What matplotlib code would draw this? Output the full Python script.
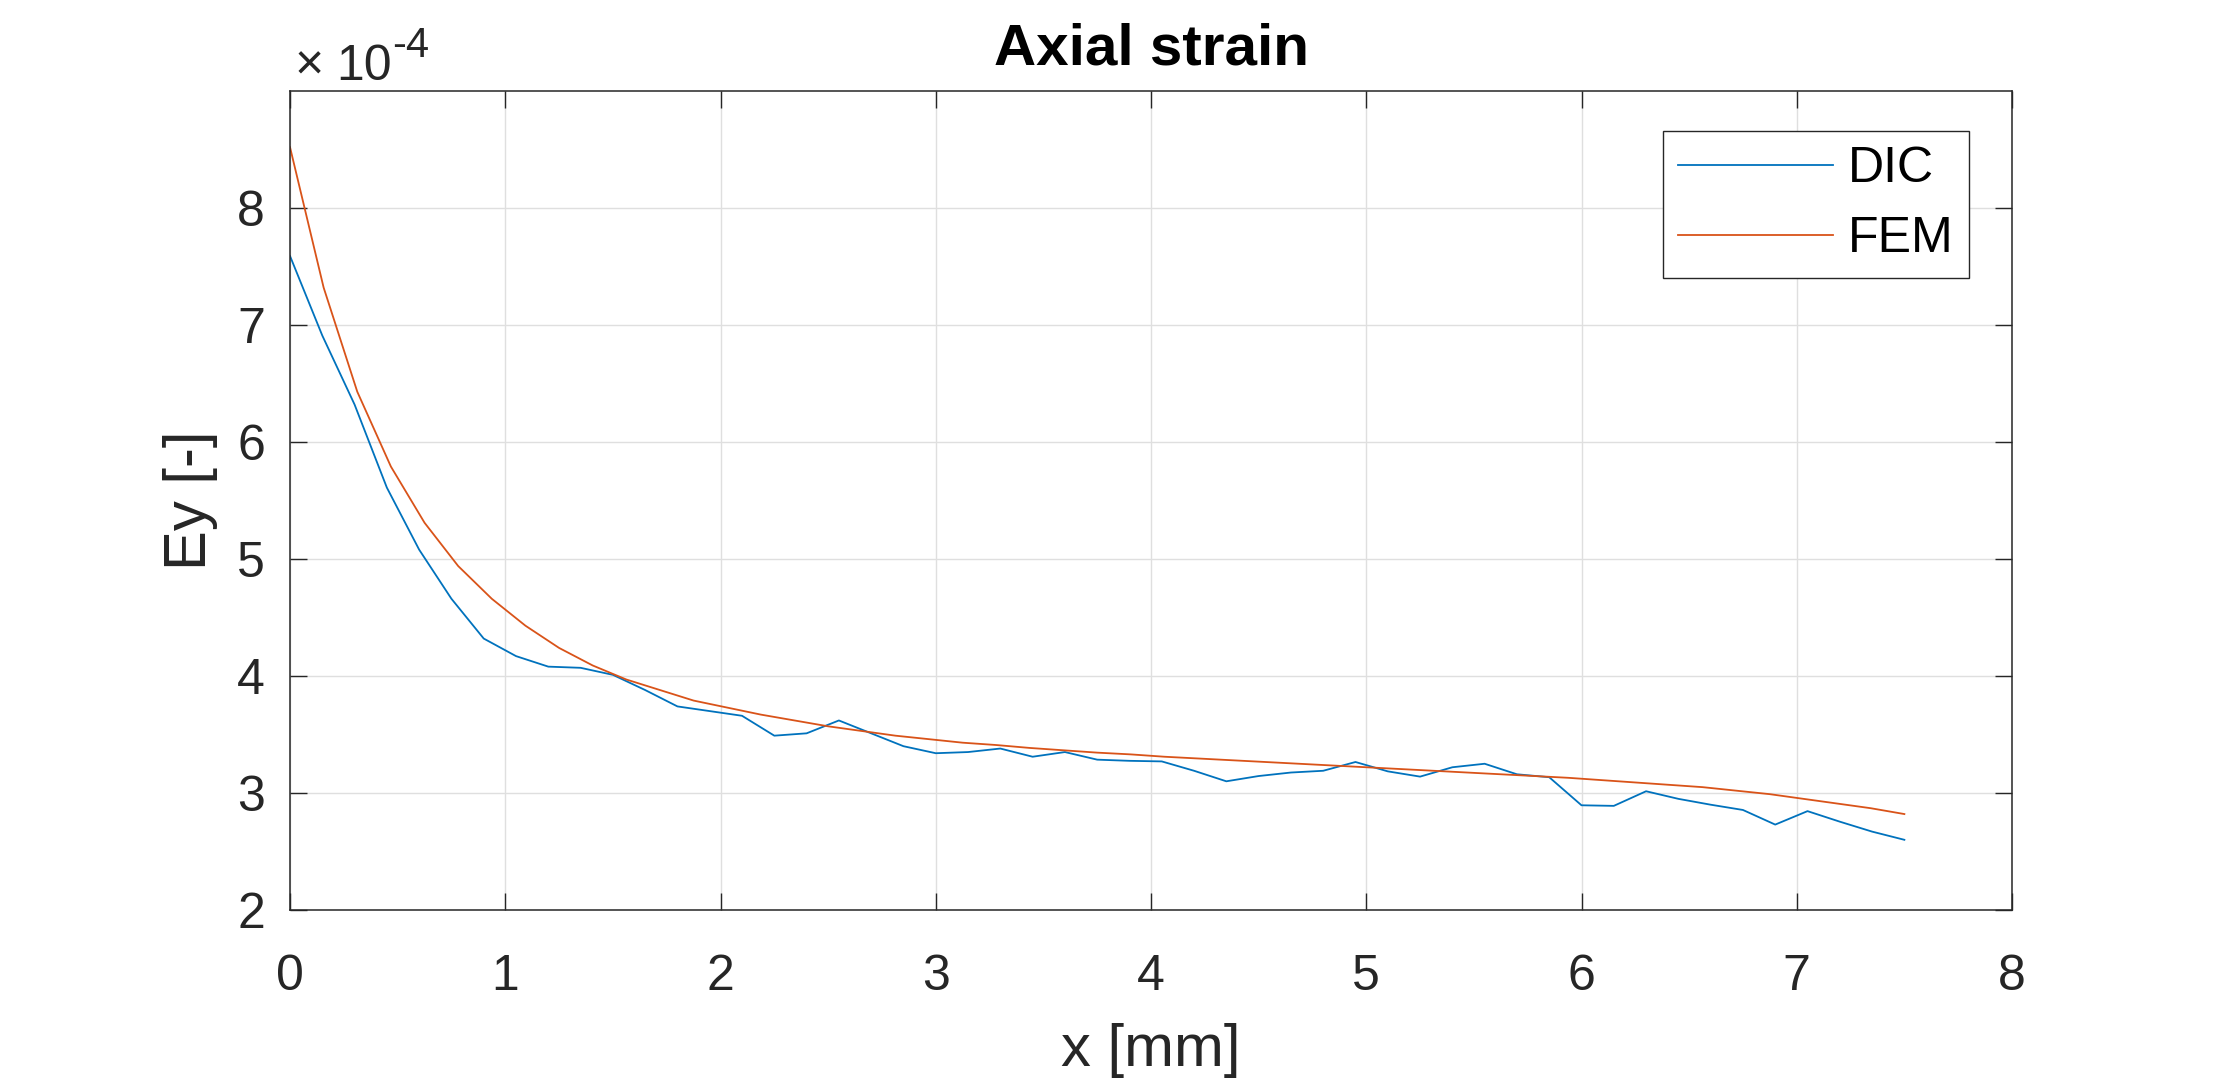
import matplotlib.pyplot as plt
import numpy as np

plt.rcParams['font.family'] = ['Liberation Sans', 'DejaVu Sans']

# axial strain along x, values in units of 1e-4
x_dic = np.linspace(0, 7.5, 51)
ey_dic = [7.59, 6.91, 6.32, 5.61, 5.08, 4.66, 4.32, 4.17, 4.08, 4.07,
          4.01, 3.88, 3.74, 3.70, 3.66, 3.49, 3.51, 3.62, 3.51, 3.40,
          3.34, 3.35, 3.38, 3.31, 3.35, 3.285, 3.275, 3.27, 3.19, 3.10,
          3.145, 3.175, 3.19, 3.265, 3.185, 3.14, 3.22, 3.25, 3.16, 3.135,
          2.895, 2.89, 3.015, 2.95, 2.90, 2.855, 2.73, 2.845, 2.755, 2.67,
          2.60]

x_fem = np.linspace(0, 7.5, 49)
ey_fem = [8.52, 7.32, 6.43, 5.79, 5.31, 4.94, 4.66, 4.43, 4.24, 4.09,
          3.97, 3.88, 3.79, 3.73, 3.67, 3.62, 3.57, 3.53, 3.49, 3.46,
          3.43, 3.41, 3.385, 3.365, 3.345, 3.33, 3.31, 3.295, 3.28, 3.265,
          3.25, 3.235, 3.22, 3.205, 3.19, 3.175, 3.16, 3.145, 3.13, 3.11,
          3.09, 3.07, 3.05, 3.02, 2.99, 2.95, 2.91, 2.87, 2.82]

xticks = [0, 1, 2, 3, 4, 5, 6, 7, 8]
yticks = [2, 3, 4, 5, 6, 7, 8]

W, H = 2223, 1082
fig = plt.figure(figsize=(W / 100, H / 100), dpi=100)
ax = fig.add_axes([290 / W, 1 - 910 / H, (2012 - 290) / W, (910 - 91) / H])

dark = '#262626'
ax.plot(x_dic, ey_dic, color='#0072BD', lw=1.3, label='DIC')
ax.plot(x_fem, ey_fem, color='#D95319', lw=1.3, label='FEM')

ax.set_xlim(0, 8)
ax.set_ylim(2, 9)
ax.set_xticks(xticks)
ax.set_yticks(yticks)
ax.grid(True, color='#dfdfdf', lw=1.0)
ax.set_axisbelow(True)

for s in ax.spines.values():
    s.set_color(dark)
    s.set_linewidth(1.1)
ax.tick_params(axis='both', direction='in', length=12, width=1.0, color=dark,
               labelcolor=dark, labelsize=36, top=True, right=True)
ax.tick_params(axis='x', pad=32)
ax.tick_params(axis='y', pad=18)

ax.set_xlabel('x [mm]', fontsize=43, color=dark, labelpad=16)
ax.set_ylabel('Ey [-]', fontsize=43, color=dark, labelpad=14)
ax.set_title('Axial strain', fontsize=42, fontweight='bold', pad=19)

# exponent label like MATLAB
fig.text(295 / W, 1 - 80 / H, '\u00d7', fontsize=36, color=dark,
         ha='left', va='baseline')
fig.text(336 / W, 1 - 80 / H, '10', fontsize=36, color=dark,
         ha='left', va='baseline')
fig.text(392 / W, 1 - 57 / H, '-4', fontsize=30, color=dark,
         ha='left', va='baseline')

leg = ax.legend(loc='upper right', bbox_to_anchor=(1969 / W, 1 - 131 / H),
                bbox_transform=fig.transFigure, borderaxespad=0,
                fontsize=36, fancybox=False, framealpha=1, edgecolor=dark,
                handlelength=3.1, handletextpad=0.3, borderpad=0.3,
                labelspacing=0.49)
leg.get_frame().set_linewidth(1.0)

fig.savefig('out.png', dpi=100, facecolor='white')
